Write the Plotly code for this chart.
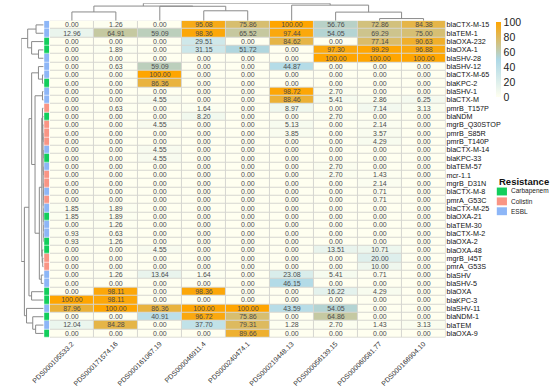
import numpy as np
import plotly.graph_objects as go

# ---------------- data ----------------
col_labels = ["PDS000105533.2", "PDS000171574.16", "PDS000161067.19", "PDS000046911.4",
              "PDS000240474.1", "PDS000219448.13", "PDS000056139.15", "PDS000060581.77",
              "PDS000166904.10"]

row_labels = ["blaCTX-M-15", "blaTEM-1", "blaOXA-232", "blaOXA-1", "blaSHV-28", "blaSHV-12",
              "blaCTX-M-65", "blaKPC-2", "blaSHV-1", "blaCTX-M", "pmrB_T157P", "blaNDM",
              "mgrB_Q30STOP", "pmrB_S85R", "pmrB_T140P", "blaCTX-M-14", "blaKPC-33", "blaTEM-57",
              "mcr-1.1", "mgrB_D31N", "blaCTX-M-8", "pmrA_G53C", "blaCTX-M-25", "blaOXA-21",
              "blaTEM-30", "blaCTX-M-2", "blaOXA-2", "blaOXA-48", "mgrB_I45T", "pmrA_G53S",
              "blaSHV", "blaSHV-5", "blaOXA", "blaKPC-3", "blaSHV-11", "blaNDM-1", "blaTEM",
              "blaOXA-9"]

resistance = ["ESBL", "ESBL", "Carbapenem", "Carbapenem", "ESBL", "ESBL", "ESBL", "Carbapenem",
              "ESBL", "ESBL", "Colistin", "Carbapenem", "Colistin", "Colistin", "Colistin", "ESBL",
              "Carbapenem", "ESBL", "Colistin", "Colistin", "ESBL", "Colistin", "ESBL", "Carbapenem",
              "ESBL", "ESBL", "Carbapenem", "Carbapenem", "Colistin", "Colistin", "ESBL", "ESBL",
              "Carbapenem", "Carbapenem", "ESBL", "Carbapenem", "ESBL", "Carbapenem"]

pct = [
    [0.00, 1.26, 0.00, 95.08, 75.86, 100.00, 56.76, 72.86, 84.38],
    [12.96, 64.91, 59.09, 98.36, 65.52, 97.44, 54.05, 69.29, 75.00],
    [0.00, 0.00, 0.00, 29.51, 0.00, 84.62, 0.00, 77.14, 90.63],
    [0.00, 1.89, 0.00, 31.15, 51.72, 0.00, 97.30, 99.29, 96.88],
    [0.00, 0.00, 0.00, 0.00, 0.00, 0.00, 100.00, 100.00, 100.00],
    [0.00, 0.63, 59.09, 0.00, 0.00, 44.87, 0.00, 0.00, 0.00],
    [0.00, 0.00, 100.00, 0.00, 0.00, 0.00, 0.00, 0.00, 0.00],
    [0.00, 0.00, 86.36, 0.00, 0.00, 0.00, 0.00, 0.00, 0.00],
    [0.00, 0.00, 0.00, 0.00, 0.00, 98.72, 2.70, 0.00, 0.00],
    [0.00, 0.00, 4.55, 0.00, 0.00, 88.46, 5.41, 2.86, 6.25],
    [0.00, 0.63, 0.00, 1.64, 0.00, 8.97, 0.00, 7.14, 3.13],
    [0.00, 0.00, 0.00, 8.20, 0.00, 0.00, 2.70, 0.00, 0.00],
    [0.00, 0.00, 4.55, 0.00, 0.00, 5.13, 0.00, 2.14, 0.00],
    [0.00, 0.00, 0.00, 0.00, 0.00, 3.85, 0.00, 3.57, 0.00],
    [0.00, 0.00, 0.00, 0.00, 0.00, 0.00, 0.00, 4.29, 0.00],
    [0.00, 0.00, 4.55, 0.00, 0.00, 0.00, 0.00, 0.00, 0.00],
    [0.00, 0.00, 4.55, 0.00, 0.00, 0.00, 0.00, 0.00, 0.00],
    [0.00, 0.00, 0.00, 0.00, 0.00, 0.00, 2.70, 0.00, 0.00],
    [0.00, 0.00, 0.00, 0.00, 0.00, 0.00, 2.70, 1.43, 0.00],
    [0.00, 0.00, 0.00, 0.00, 0.00, 0.00, 0.00, 2.14, 0.00],
    [0.00, 0.00, 0.00, 0.00, 0.00, 0.00, 0.00, 0.71, 0.00],
    [0.00, 0.00, 0.00, 0.00, 0.00, 0.00, 0.00, 0.71, 0.00],
    [1.85, 1.89, 0.00, 0.00, 0.00, 0.00, 0.00, 0.00, 0.00],
    [1.85, 1.89, 0.00, 0.00, 0.00, 0.00, 0.00, 0.00, 0.00],
    [0.00, 1.26, 0.00, 0.00, 0.00, 0.00, 0.00, 0.00, 0.00],
    [0.93, 0.63, 0.00, 0.00, 0.00, 0.00, 0.00, 0.00, 0.00],
    [0.93, 1.26, 0.00, 0.00, 0.00, 0.00, 0.00, 0.00, 0.00],
    [0.00, 0.00, 4.55, 0.00, 0.00, 0.00, 13.51, 10.71, 0.00],
    [0.00, 0.00, 0.00, 0.00, 0.00, 0.00, 0.00, 20.00, 0.00],
    [0.00, 0.00, 0.00, 0.00, 0.00, 0.00, 0.00, 10.00, 0.00],
    [0.00, 1.26, 13.64, 1.64, 0.00, 23.08, 5.41, 0.71, 0.00],
    [0.00, 0.00, 0.00, 0.00, 0.00, 46.15, 0.00, 0.00, 0.00],
    [0.00, 98.11, 0.00, 98.36, 0.00, 0.00, 16.22, 4.29, 0.00],
    [100.00, 98.11, 0.00, 0.00, 0.00, 0.00, 0.00, 0.00, 0.00],
    [87.96, 100.00, 86.36, 100.00, 100.00, 43.59, 54.05, 0.00, 0.00],
    [0.00, 0.00, 40.91, 96.72, 75.86, 0.00, 64.86, 0.00, 0.00],
    [12.04, 84.28, 0.00, 37.70, 79.31, 1.28, 2.70, 1.43, 3.13],
    [0.00, 0.00, 0.00, 0.00, 89.66, 0.00, 0.00, 0.00, 0.00],
]

res_classes = ["Carbapenem", "Colistin", "ESBL"]
res_colors = ["#12CE5C", "#F99585", "#8DB6F7"]

# ---------------- clustering (complete linkage, euclidean) ----------------
def complete_linkage(X):
    n = X.shape[0]
    D = np.sqrt(((X[:, None, :] - X[None, :, :]) ** 2).sum(-1))
    size = 2 * n - 1
    M = np.full((size, size), np.inf)
    M[:n, :n] = D
    np.fill_diagonal(M, np.inf)
    active = list(range(n))
    merges = []
    nxt = n
    while len(active) > 1:
        sub = M[np.ix_(active, active)]
        k = int(np.argmin(sub))
        i, j = divmod(k, len(active))
        a, b = active[i], active[j]
        h = M[a, b]
        merges.append((a, b, h))
        for c in active:
            if c not in (a, b):
                d = max(M[a, c], M[b, c])
                M[nxt, c] = d
                M[c, nxt] = d
        active = [c for c in active if c not in (a, b)] + [nxt]
        nxt += 1
    return merges


def dendro_lines(merges, n):
    pos = {i: float(i) for i in range(n)}
    ht = {i: 0.0 for i in range(n)}
    lp, lh = [], []
    for idx, (a, b, h) in enumerate(merges):
        node = n + idx
        lp += [pos[a], pos[a], pos[b], pos[b], None]
        lh += [ht[a], h, h, ht[b], None]
        pos[node] = (pos[a] + pos[b]) / 2
        ht[node] = h
    return lp, lh, max(m[2] for m in merges)


Z = np.array(pct)
nr, nc = Z.shape
row_p, row_h, row_H = dendro_lines(complete_linkage(Z), nr)
col_p, col_h, col_H = dendro_lines(complete_linkage(Z.T), nc)

# ---------------- figure ----------------
W, H = 550, 387
def px(x):
    return x / W
def py(y):
    return 1 - y / H

FONT = "Liberation Sans, Arial, sans-serif"
text = [[f"{v:.2f}" for v in row] for row in pct]

fig = go.Figure()

fig.add_trace(go.Heatmap(
    z=Z, x=list(range(nc)), y=list(range(nr)), text=text,
    texttemplate="%{text}", textfont=dict(size=7, color="#4d4d4d", family=FONT),
    colorscale=[[0, "#FFFFF0"], [0.5, "#ADD8E6"], [1, "#FFA500"]],
    zmin=0, zmax=100, xgap=1, ygap=1, hoverinfo="skip",
    colorbar=dict(x=px(494), xanchor="left", y=py(22.5), yanchor="top",
                  lenmode="pixels", len=75, thicknessmode="pixels", thickness=5,
                  outlinewidth=0, ticks="", tickvals=[0, 20, 40, 60, 80, 100],
                  tickfont=dict(size=10.5, color="#222", family=FONT), ypad=0, xpad=0),
))

code = [res_classes.index(r) for r in resistance]
fig.add_trace(go.Heatmap(
    z=[[c] for c in code], x=[0], y=list(range(nr)), xaxis="x4", yaxis="y",
    colorscale=[[0, res_colors[0]], [0.333, res_colors[0]], [0.333, res_colors[1]],
                [0.667, res_colors[1]], [0.667, res_colors[2]], [1, res_colors[2]]],
    zmin=0, zmax=2, showscale=False, ygap=0.6, hoverinfo="skip",
))

fig.add_trace(go.Scatter(x=col_p, y=col_h, mode="lines", xaxis="x", yaxis="y2",
                         line=dict(color="#8a8a8a", width=1), hoverinfo="skip",
                         showlegend=False, cliponaxis=False))
fig.add_trace(go.Scatter(x=row_h, y=row_p, mode="lines", xaxis="x3", yaxis="y",
                         line=dict(color="#8a8a8a", width=1), hoverinfo="skip",
                         showlegend=False, cliponaxis=False))

fig.add_shape(type="rect", xref="x", yref="y", x0=-0.5, x1=nc - 0.5, y0=-0.5, y1=nr - 0.5,
              fillcolor="#d6d6d0", line=dict(color="#d6d6d0", width=1), layer="below")

# legend for resistance annotation
fig.add_annotation(x=px(495), y=py(184), xref="paper", yref="paper", text="<b>Resistance</b>",
                   showarrow=False, xanchor="left", yanchor="middle",
                   font=dict(size=9.5, color="#111", family=FONT))
for i, (cls, colr) in enumerate(zip(res_classes, res_colors)):
    y0 = 190 + 10 * i
    fig.add_shape(type="rect", xref="paper", yref="paper", x0=px(495), x1=px(505.5),
                  y0=py(y0 + 8), y1=py(y0), fillcolor=colr, line=dict(width=0))
    fig.add_annotation(x=px(508), y=py(y0 + 4), xref="paper", yref="paper", text=cls,
                       showarrow=False, xanchor="left", yanchor="middle",
                       font=dict(size=6.5, color="#222", family=FONT))

fig.update_layout(
    width=W, height=H, margin=dict(l=0, r=0, t=0, b=0),
    paper_bgcolor="white", plot_bgcolor="white",
    font=dict(family=FONT),
    xaxis=dict(domain=[px(33), px(442)], range=[-0.5, nc - 0.5], tickvals=list(range(nc)),
               ticktext=col_labels, tickangle=-45, ticks="", showgrid=False, zeroline=False,
               tickfont=dict(size=7, color="#333", family=FONT), anchor="y"),
    yaxis=dict(domain=[py(342), py(21)], range=[nr - 0.5, -0.5], tickvals=list(range(nr)),
               ticktext=row_labels, side="right", ticks="", showgrid=False, zeroline=False,
               tickfont=dict(size=7.2, color="#111", family=FONT), anchor="x"),
    yaxis2=dict(domain=[py(21), py(3.3)], range=[0, col_H], visible=False, anchor="x"),
    xaxis3=dict(domain=[px(3.3), px(26.5)], range=[row_H, 0], visible=False, anchor="y"),
    xaxis4=dict(domain=[px(27), px(32.5)], range=[-0.5, 0.5], visible=False, anchor="y"),
)

fig.write_html("out.html", config={"displayModeBar": False},
               post_script="document.body.style.margin='0';document.body.style.overflow='hidden';")
